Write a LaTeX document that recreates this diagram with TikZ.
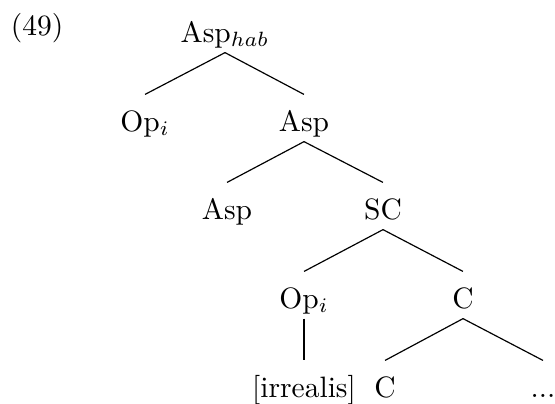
\documentclass[tikz,border=0pt]{standalone}
\begin{document}
\begin{tikzpicture}[x=0.339pt, y=-0.339pt,
        nodo/.style={inner sep=0pt, anchor=base, text height=12.2pt, text depth=3.4pt}]
        \useasboundingbox (0,0) rectangle (555,403);
        % Nodi
        \node[inner sep=0pt, anchor=base] (num) at (37,35) {(49)};
        \node[nodo] (hab) at (225,42) {Asp$_{hab}$};
        \node[nodo] (opa) at (145,131) {Op$_i$};
        \node[nodo] (asp) at (304,131) {Asp};
        \node[nodo] (aspl) at (227,219) {Asp};
        \node[nodo] (sc) at (383,219) {SC};
        \node[nodo] (opb) at (304,308) {Op$_i$};
        \node[nodo] (c) at (463,308) {C};
        \node[nodo] (irr) at (304,397) {[irrealis]};
        \node[nodo] (cl) at (385,397) {C};
        \node[nodo] (dots) at (543,397) {...};

        % Archi
        \draw (hab.south) -- (opa.north); % ramo sinistro
        \draw (hab.south) -- (asp.north); % ramo destro
        \draw (asp.south) -- (aspl.north);
        \draw (asp.south) -- (sc.north);
        \draw (sc.south) -- (opb.north);
        \draw (sc.south) -- (c.north);
        \draw (opb.south) -- (irr.north); % ramo unico
        \draw (c.south) -- (cl.north);
        \draw (c.south) -- (dots.north);

    \end{tikzpicture}
\end{document}
